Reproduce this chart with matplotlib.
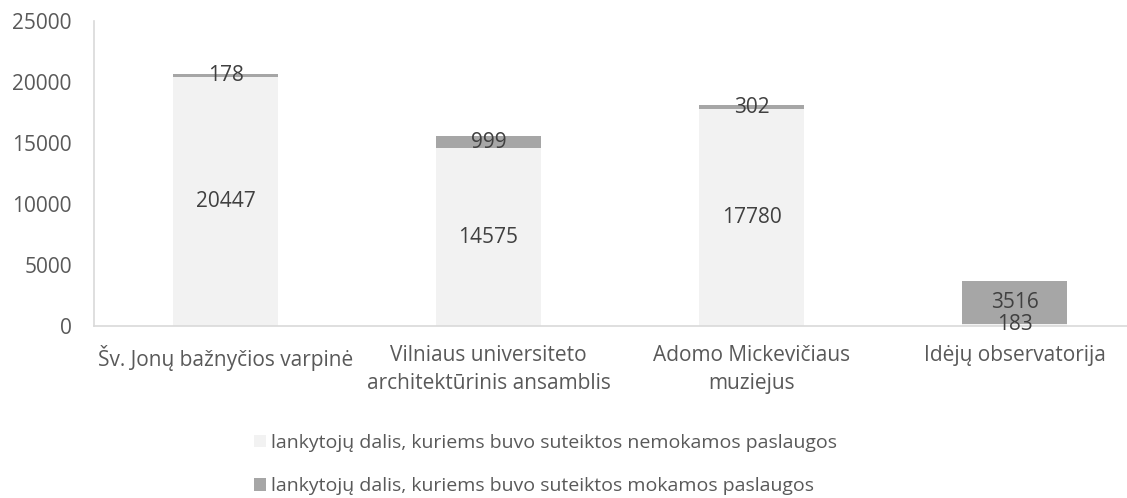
import matplotlib
matplotlib.use("Agg")
import matplotlib.pyplot as plt
import numpy as np

# data
categories = ["Šv. Jonų bažnyčios varpinė",
              "Vilniaus universiteto\narchitektūrinis ansamblis",
              "Adomo Mickevičiaus\nmuziejus",
              "Idėjų observatorija"]
free = [20447, 14575, 17780, 183]
paid = [178, 999, 302, 3516]
series_names = ["lankytojų dalis, kuriems buvo suteiktos nemokamos paslaugos",
                "lankytojų dalis, kuriems buvo suteiktos mokamos paslaugos"]
yticks = [0, 5000, 10000, 15000, 20000, 25000]

plt.rcParams['font.family'] = ['Open Sans', 'DejaVu Sans']
txt = '#595959'

fig = plt.figure(figsize=(11.27, 4.98), dpi=100)
ax = fig.add_axes([94/1127, 1 - 326/498, 4*263/1127, 305/498])

x = np.arange(len(categories))
w = 0.4
b1 = ax.bar(x, free, w, color='#F2F2F2', label=series_names[0])
b2 = ax.bar(x, paid, w, bottom=free, color='#A6A6A6', label=series_names[1])

ax.bar_label(b1, labels=[str(v) for v in free], label_type='center', color='#404040', fontsize=15)
ax.bar_label(b2, labels=[str(v) for v in paid], label_type='center', color='#404040', fontsize=15)

ax.set_xlim(-0.5, len(categories) - 0.5)
ax.set_ylim(0, 25000)
ax.set_yticks(yticks)
ax.set_yticklabels([str(t) for t in yticks])
ax.set_xticks(x)
ax.set_xticklabels(categories, linespacing=1.4)
ax.tick_params(axis='both', length=0, colors=txt, labelsize=15)
ax.tick_params(axis='y', pad=16)
ax.tick_params(axis='x', pad=14)
for s in ['top', 'right']:
    ax.spines[s].set_visible(False)
ax.spines['left'].set_color('#D9D9D9')
ax.spines['bottom'].set_color('#D9D9D9')
ax.spines['left'].set_linewidth(1.2)
ax.spines['bottom'].set_linewidth(1.2)

leg = fig.legend(loc='upper center', bbox_to_anchor=(0.484, 0.148), ncol=1, frameon=False,
                 fontsize=14, labelcolor=txt, handlelength=0.6, handleheight=0.6,
                 handletextpad=0.25, labelspacing=1.3, borderpad=0)

fig.savefig("out.png", dpi=100)
